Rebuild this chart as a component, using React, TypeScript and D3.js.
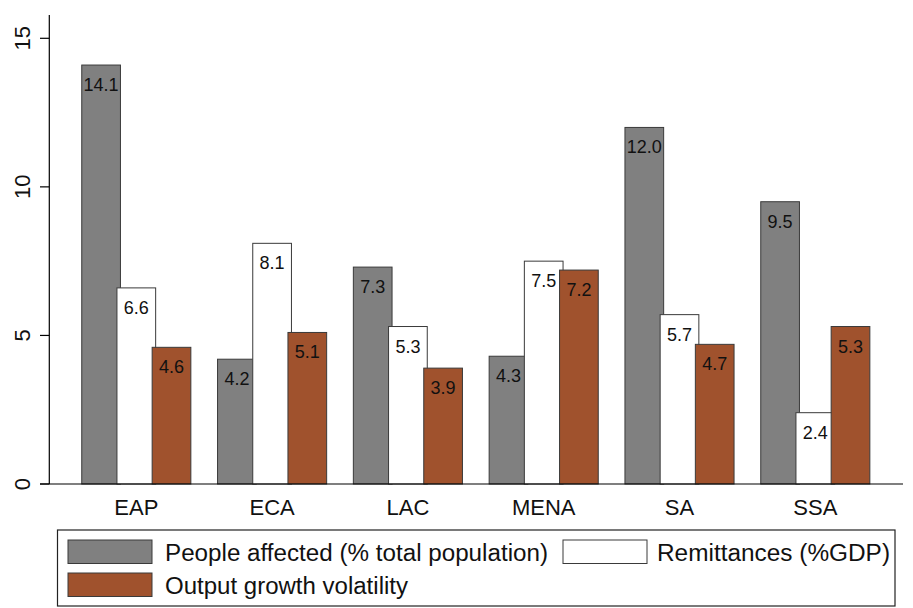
import React from 'react';
import * as d3 from 'd3';

const regions = ['EAP', 'ECA', 'LAC', 'MENA', 'SA', 'SSA'];
const seriesNames = ['People affected (% total population)', 'Remittances (%GDP)', 'Output growth volatility'];
const peopleAffected = [14.1, 4.2, 7.3, 4.3, 12.0, 9.5];
const remittances = [6.6, 8.1, 5.3, 7.5, 5.7, 2.4];
const outputVolatility = [4.6, 5.1, 3.9, 7.2, 4.7, 5.3];
const yTicks = [0, 5, 10, 15];

const colors = ['#808080', '#ffffff', '#a0522d'];
const WIDTH = 913;
const HEIGHT = 608;
const FONT = '"Liberation Sans", Arial, Helvetica, sans-serif';

const App: React.FC = () => {
  const series = [peopleAffected, remittances, outputVolatility];

  const y = d3.scaleLinear().domain([0, 15]).range([484, 38.3]);
  // group centres and per-series offsets (bars overlap slightly, like Stata)
  const x = d3.scalePoint<string>().domain(regions).range([136.3, 815.3]);
  const offset = d3.scalePoint<number>().domain([0, 1, 2]).range([-35.2, 35.2]);
  const barW = 38.7;

  const bars = series.flatMap((vals, si) =>
    vals.map((v, ci) => ({ si, ci, v, cx: (x(regions[ci]) as number) + (offset(si) as number) }))
  );

  // legend text widths are stretched to match the wide Helvetica of the original
  const legendRows = [
    { name: seriesNames[0], color: colors[0], sx: 68, tx: 165, y: 540, len: 383 },
    { name: seriesNames[1], color: colors[1], sx: 563, tx: 657, y: 540, len: 233 },
    { name: seriesNames[2], color: colors[2], sx: 68, tx: 165, y: 573, len: 243 },
  ];

  return (
    <svg width={WIDTH} height={HEIGHT} style={{ position: 'absolute', left: 0, top: 0, background: '#fff' }}
      fontFamily={FONT}>
      <rect width={WIDTH} height={HEIGHT} fill="#fff" />

      {/* bars */}
      {bars.map(b => (
        <rect key={`b-${b.si}-${b.ci}`} x={b.cx - barW / 2} y={y(b.v)} width={barW} height={y(0) - y(b.v)}
          fill={colors[b.si]} stroke="#3a3a3a" strokeWidth={1} />
      ))}

      {/* value labels */}
      {bars.map(b => (
        <text key={`t-${b.si}-${b.ci}`} x={b.cx} y={y(b.v) + 26} textAnchor="middle" fontSize={18} fill="#111">
          {b.v.toFixed(1)}
        </text>
      ))}

      {/* y axis */}
      <line x1={49.3} x2={49.3} y1={15} y2={484} stroke="#000" strokeWidth={1.2} />
      {yTicks.map(t => (
        <g key={`y-${t}`}>
          <line x1={40} x2={49.3} y1={y(t)} y2={y(t)} stroke="#000" strokeWidth={1.2} />
          <text transform={`translate(29.5, ${y(t)}) rotate(-90)`} textAnchor="middle" fontSize={22} fill="#111">
            {t}
          </text>
        </g>
      ))}

      {/* x axis */}
      <line x1={40} x2={903} y1={484} y2={484} stroke="#000" strokeWidth={1.2} />
      {regions.map(r => (
        <text key={`x-${r}`} x={x(r)} y={515} textAnchor="middle" fontSize={22} fill="#111">{r}</text>
      ))}

      {/* legend */}
      <rect x={57.5} y={530} width={837.5} height={76} fill="#fff" stroke="#222" strokeWidth={1.2} />
      {legendRows.map(l => (
        <g key={l.name}>
          <rect x={l.sx} y={l.y} width={84} height={23.5} fill={l.color} stroke="#3a3a3a" strokeWidth={1} />
          <text x={l.tx} y={l.y + 20.5} fontSize={23} fill="#111" textLength={l.len} lengthAdjust="spacingAndGlyphs">
            {l.name}
          </text>
        </g>
      ))}
    </svg>
  );
};

export default App;
